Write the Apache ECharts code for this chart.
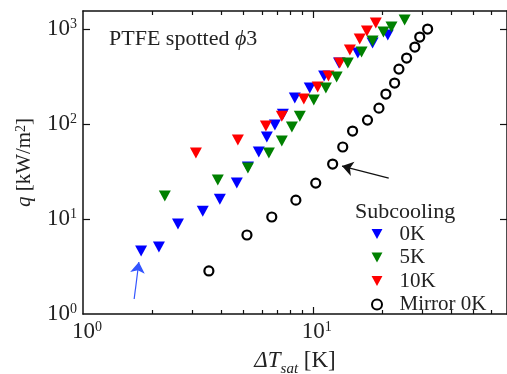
<!DOCTYPE html>
<html>
<head>
<meta charset="utf-8">
<script src="https://cdn.jsdelivr.net/npm/echarts@6/dist/echarts.min.js"></script>
<style>
html, body { margin: 0; padding: 0; background: #fff; }
#chart { width: 507px; height: 374px; }
</style>
</head>
<body>
<div id="chart"></div>
<script>
var FONT = "'Liberation Serif', 'Times New Roman', serif";

// subcooling 0K
var blueX = [1.79, 2.14, 2.59, 3.32, 3.94, 4.67, 5.22, 5.82, 6.31, 6.84, 7.41, 8.35, 9.70, 11.2, 13.0, 15.7, 18.2, 21.2];
var blueY = [4.6, 5.07, 8.86, 12.1, 16.2, 23.9, 35.3, 50.7, 73, 97.6, 127, 188, 239, 320, 439, 559, 712, 865];
// subcooling 5K
var greenX = [2.27, 3.86, 5.22, 6.44, 7.33, 8.11, 8.78, 10.1, 11.4, 12.7, 14.2, 16.3, 18.2, 20.3, 22.0, 25.1];
var greenY = [17.5, 25.7, 34.4, 49.5, 66.2, 93.0, 121, 179, 239, 312, 439, 573, 748, 930, 1050, 1244];
// subcooling 10K
var redX = [3.10, 4.72, 6.25, 7.33, 9.14, 10.5, 11.7, 13.1, 14.5, 16.0, 17.2, 18.8];
var redY = [49.5, 67.9, 95.3, 121, 183, 245, 320, 439, 601, 785, 953, 1157];
// mirror surface 0K
var mirrorX = [3.53, 5.17, 6.63, 8.44, 10.3, 12.2, 13.5, 14.9, 17.3, 19.4, 20.8, 22.7, 23.7, 25.6, 27.8, 29.2, 31.6];
var mirrorY = [2.84, 6.79, 10.5, 15.8, 23.9, 37.9, 57.3, 84.4, 110, 147, 207, 270, 379, 495, 647, 824, 1000];

// arrows [start, end]
var arrowBlue = [[1.67, 1.44], [1.75, 3.53]];
var arrowBlack = [[21.4, 27], [13.4, 36.1]];

var legendNames = ['0K', '5K', '10K', 'Mirror 0K'];
var xMajor = [1, 10];
var xMinor = [2, 3, 4, 5, 6, 7, 8, 9, 20, 30, 40, 50, 60];
var yMajor = [1, 10, 100, 1000];

var DOWN_TRI = 'path://M0,0 L12,0 L6,11 Z';

function pairs(xs, ys) {
	var out = [];
	for (var i = 0; i < xs.length; i++) out.push([xs[i], ys[i]]);
	return out;
}

function powLabel(v) {
	var e = Math.round(Math.log(v) / Math.LN10);
	return '{b|10}{sup|' + e + '}';
}

var labelRich = {
	b: { fontFamily: FONT, fontSize: 23, color: '#222' },
	sup: { fontFamily: FONT, fontSize: 14, color: '#222', verticalAlign: 'top' }
};
var lineStyle = { color: '#111', width: 1.5 };

function xAx(pos, major, showLine, showLabel) {
	return {
		type: 'log', min: 1, max: 70, logBase: 10, position: pos,
		axisLine: { show: showLine, lineStyle: lineStyle },
		axisTick: { show: true, inside: true, length: major ? 7 : 4, customValues: major ? [10] : xMinor, lineStyle: { color: '#111', width: 1.2 } },
		axisLabel: {
			show: showLabel, customValues: xMajor, margin: 6,
			formatter: powLabel,
			rich: {
				b: { fontFamily: FONT, fontSize: 23, color: '#222', padding: [0, 0, 0, 8] },
				sup: labelRich.sup
			}
		},
		splitLine: { show: false },
		name: showLabel ? '{i|ΔT}{s|sat}{n| [K]}' : '',
		nameLocation: 'middle',
		nameGap: 35,
		nameTextStyle: {
			rich: {
				i: { fontFamily: FONT, fontSize: 23, fontStyle: 'italic', color: '#222' },
				s: { fontFamily: FONT, fontSize: 15, fontStyle: 'italic', color: '#222', verticalAlign: 'bottom', padding: [0, 0, -5, 0] },
				n: { fontFamily: FONT, fontSize: 23, color: '#222' }
			}
		}
	};
}

function yAx(pos, showLabel) {
	return {
		type: 'log', min: 1, max: 1550, logBase: 10, position: pos,
		axisLine: { show: true, lineStyle: lineStyle },
		axisTick: { show: true, inside: true, length: 7, customValues: [10, 100, 1000], lineStyle: { color: '#111', width: 1.2 } },
		axisLabel: { show: showLabel, customValues: yMajor, margin: 6, formatter: powLabel, rich: labelRich },
		splitLine: { show: false },
		name: showLabel ? '{i|q} [kW/m{sup|2}]' : '',
		nameLocation: 'middle',
		nameGap: 48,
		nameTextStyle: {
			fontFamily: FONT, fontSize: 21, color: '#222',
			rich: {
				i: { fontFamily: FONT, fontSize: 21, fontStyle: 'italic', color: '#222' },
				sup: { fontFamily: FONT, fontSize: 14, color: '#222', verticalAlign: 'top' }
			}
		}
	};
}

var chart = echarts.init(document.getElementById('chart'), null, { renderer: 'canvas' });

var option = {
	animation: false,
	backgroundColor: '#fff',
	grid: { left: 83, right: 0, top: 11, bottom: 60, containLabel: false, outerBoundsMode: 'none' },
	title: [{
		text: 'PTFE spotted {i|ϕ}3',
		left: 104, top: 23,
		textStyle: {
			fontFamily: FONT, fontSize: 22, fontWeight: 'normal', color: '#222',
			rich: { i: { fontFamily: FONT, fontSize: 22, fontStyle: 'italic', color: '#222' } }
		}
	}, {
		text: 'Subcooling',
		left: 350, top: 196,
		textStyle: { fontFamily: FONT, fontSize: 22, fontWeight: 'normal', color: '#222' }
	}],
	legend: {
		data: legendNames,
		orient: 'vertical',
		left: 366, top: 218,
		itemWidth: 11, itemHeight: 10,
		itemGap: 1.5,
		textStyle: { fontFamily: FONT, fontSize: 21, color: '#222', lineHeight: 22, padding: [0, 0, 0, 12] }
	},
	xAxis: [
		xAx('bottom', true, true, true),
		xAx('bottom', false, false, false),
		xAx('top', true, true, false),
		xAx('top', false, false, false)
	],
	yAxis: [
		yAx('left', true),
		yAx('right', false)
	],
	series: [
		{
			name: '0K', type: 'scatter', symbol: DOWN_TRI, symbolSize: [12, 11],
			itemStyle: { color: '#0000ff', opacity: 1 }, data: pairs(blueX, blueY)
		},
		{
			name: '10K', type: 'scatter', symbol: DOWN_TRI, symbolSize: [12, 11],
			itemStyle: { color: '#ff0000', opacity: 1 }, data: pairs(redX, redY)
		},
		{
			name: '5K', type: 'scatter', symbol: DOWN_TRI, symbolSize: [12, 11],
			itemStyle: { color: '#008000', opacity: 1 }, data: pairs(greenX, greenY)
		},
		{
			name: 'Mirror 0K', type: 'scatter', symbol: 'circle', symbolSize: 9,
			itemStyle: { color: '#fff', borderColor: '#000', borderWidth: 2.2, opacity: 1 }, data: pairs(mirrorX, mirrorY)
		},
		{
			type: 'lines', coordinateSystem: 'cartesian2d', silent: true,
			symbol: ['none', 'arrow'], symbolSize: [7, 11],
			lineStyle: { color: '#3355ff', width: 1.2, opacity: 1 },
			data: [{ coords: arrowBlue }]
		},
		{
			type: 'lines', coordinateSystem: 'cartesian2d', silent: true,
			symbol: ['none', 'arrow'], symbolSize: [7, 11],
			lineStyle: { color: '#111', width: 1.2, opacity: 1 },
			data: [{ coords: arrowBlack }]
		}
	]
};
chart.setOption(option);
</script>
</body>
</html>
